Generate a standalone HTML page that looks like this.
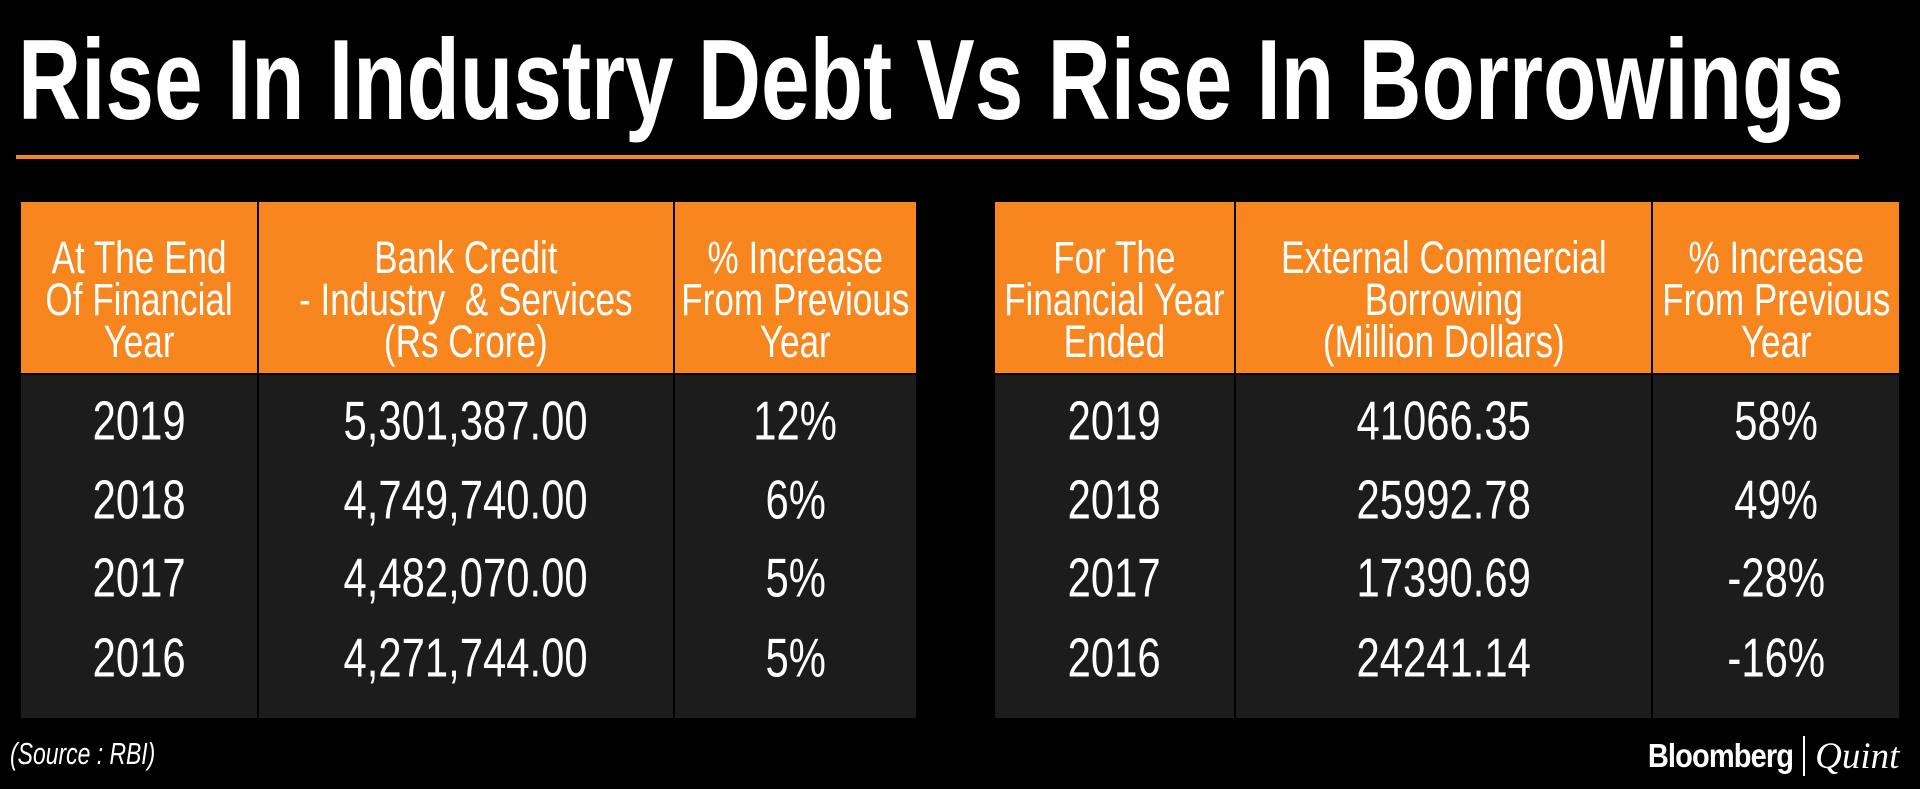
<!DOCTYPE html>
<html><head><meta charset="utf-8">
<style>
body{margin:0;width:1920px;height:789px;background:#000;overflow:hidden;position:relative;font-family:"Liberation Sans",sans-serif;color:#fff}
.abs{position:absolute}
.hd{position:absolute;top:202px;height:171px;background:#f7861e;display:flex;align-items:center;justify-content:center;text-align:center;color:#fff;white-space:nowrap;overflow:visible}
.hd span{display:inline-block;font-size:45px;line-height:42px;transform:translateY(12px) scaleX(0.78);transform-origin:center}
.bd{position:absolute;top:375px;height:343px;background:#1c1c1c}
.cell{position:absolute;text-align:center;line-height:60px;transform:translateY(-50%);white-space:nowrap}
.cell span{display:inline-block;font-size:55px;transform:scaleX(0.76);transform-origin:center}
</style></head><body>
<svg class="abs" style="left:0;top:0" width="1920" height="160">
<text x="18" y="119" font-family="Liberation Sans, sans-serif" font-weight="bold" font-size="114" fill="#fff" textLength="1826" lengthAdjust="spacingAndGlyphs">Rise In Industry Debt Vs Rise In Borrowings</text>
</svg>
<div class="abs" style="left:16px;top:155px;width:1843px;height:4px;background:#f7861e"></div>

<div id="t1"></div>
<div id="t2"></div>

<div class="abs" style="left:10px;top:736px;font-size:31px;font-style:italic;transform:scaleX(0.74);transform-origin:left;white-space:nowrap">(Source : RBI)</div>
<div class="abs" style="left:1628px;top:734px;height:44px;display:flex;align-items:center">
<span style="font-weight:bold;font-size:33px;letter-spacing:-1px;display:inline-block;transform:scaleX(0.88);transform-origin:right">Bloomberg</span>
<span style="display:inline-block;width:2px;height:40px;background:#fff;margin:0 10px"></span>
<span style="font-family:'Liberation Serif',serif;font-style:italic;font-size:37px">Quint</span>
</div>

<script>
const leftHeaders=["At The End<br>Of Financial<br>Year","Bank Credit<br>- Industry &nbsp;&amp; Services<br>(Rs Crore)","% Increase<br>From Previous<br>Year"];
const leftYears=["2019","2018","2017","2016"];
const leftValues=["5,301,387.00","4,749,740.00","4,482,070.00","4,271,744.00"];
const leftPct=["12%","6%","5%","5%"];
const rightHeaders=["For The<br>Financial Year<br>Ended","External Commercial<br>Borrowing<br>(Million Dollars)","% Increase<br>From Previous<br>Year"];
const rightYears=["2019","2018","2017","2016"];
const rightValues=["41066.35","25992.78","17390.69","24241.14"];
const rightPct=["58%","49%","-28%","-16%"];
const rowY=[428,507,585,665];
function build(host,edges,headers,cols,prefix){
  for(let i=0;i<3;i++){
    const x0=edges[i]+(i?2:0), x1=edges[i+1];
    const h=document.createElement('div');h.className='hd';
    
    
    h.style.left=x0+'px';h.style.width=(x1-x0)+'px';h.innerHTML='<span>'+headers[i]+'</span>';host.appendChild(h);
    const b=document.createElement('div');b.className='bd';
    
    
    b.style.left=x0+'px';b.style.width=(x1-x0)+'px';host.appendChild(b);
    cols[i].forEach((v,r)=>{
      const c=document.createElement('div');c.className='cell';
      
      
      c.style.left=x0+'px';c.style.width=(x1-x0)+'px';c.style.top=rowY[r]+'px';
      const s=document.createElement('span');s.textContent=v;c.appendChild(s);host.appendChild(c);
    });
  }
}
build(document.getElementById('t1'),[21,257,673,916],leftHeaders,[leftYears,leftValues,leftPct],'left');
build(document.getElementById('t2'),[995,1234,1651,1899],rightHeaders,[rightYears,rightValues,rightPct],'right');
</script>
</body></html>
